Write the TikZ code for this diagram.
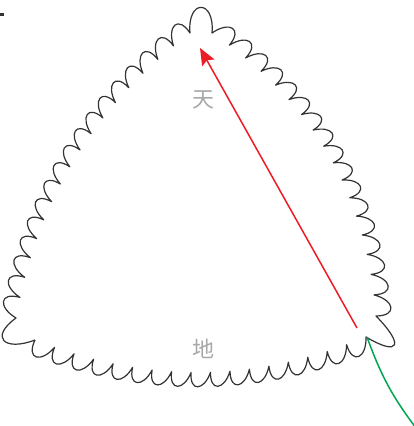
\documentclass[tikz,border=0pt]{standalone}
\usepackage{fontspec}
\usepackage{tikz}
\usetikzlibrary{calc,arrows.meta}
\usepackage{xcolor}
\newfontfamily\cjk{Noto Sans CJK SC}
\definecolor{arrowred}{HTML}{ED1C24}
\definecolor{stemgreen}{HTML}{00A651}
\definecolor{labelgray}{HTML}{A8A8A8}
\definecolor{inkgray}{HTML}{333333}

\begin{document}
\begin{tikzpicture}[x=1pt,y=1pt,
    outline/.style={draw=inkgray,line width=1.2pt,line join=round},
    scallop/.style={relative,out=-95,in=-110,looseness=2.6},
    lbl/.style={font=\cjk\fontsize{22}{22}\selectfont,text=labelgray}
    ]
\useasboundingbox (0,0) rectangle (414,-426);
% corners of the outline
\coordinate (topR) at (212,-33);
\coordinate (topL) at (190,-33);
\coordinate (blT) at (16,-318);
\coordinate (blB) at (35,-340);
\coordinate (brB) at (366,-337);
\coordinate (brT) at (376,-316);
% cusp points along the sides (bulging outwards)
\foreach \e/\a/\b/\s in {b/blB/brB/34, r/brT/topR/40, l/topL/blT/33} {
  \foreach \k in {1,...,16} {
    \pgfmathsetmacro\t{\k/17}
    \pgfmathsetmacro\off{4*\s*\t*(1-\t)}
    \coordinate (mid) at ($(\a)!\t!(\b)$);
    \coordinate (\e-\k) at ($(mid)!\off pt!-90:(\b)$);
  }
}
% scalloped outline
\path[outline] (blB) to[scallop] (b-1) foreach \i in {2,...,16} {to[scallop] (b-\i)} to[scallop] (brB)
    to[scallop,looseness=4.4] (brT)
    to[scallop] (r-1) foreach \i in {2,...,16} {to[scallop] (r-\i)} to[scallop] (topR)
    to[relative,out=-95,in=-85,looseness=4] (topL)
    to[scallop] (l-1) foreach \i in {2,...,16} {to[scallop] (l-\i)} to[scallop] (blT)
    to[scallop,looseness=2.9] (blB);
% labels
\node[lbl] (tian) at (203,-100) {天};
\node[lbl] (di) at (203,-349) {地};
% arrows
\coordinate (redS) at (357,-328);
\coordinate (redE) at (200,-48);
\draw[arrowred,line width=1.5pt,-{Stealth[length=17pt,width=14pt,inset=3pt]}] (redS) -- (redE);
\coordinate (grnS) at (367,-337);
\coordinate (grnE) at (416,-428);
\draw[stemgreen,line width=1.5pt] (grnS) to[out=-70,in=127] (grnE);
% cut-off mark at the corner
\coordinate (tickA) at (0,-14.5);
\coordinate (tickB) at (4,-14.5);
\draw[inkgray,line width=2.5pt] (tickA) -- (tickB);
\end{tikzpicture}
\end{document}
